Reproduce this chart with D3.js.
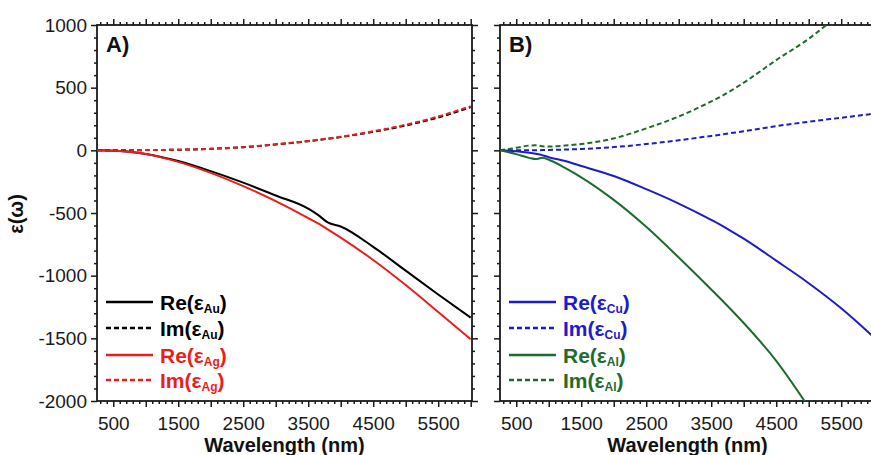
<!DOCTYPE html>
<html>
<head>
<meta charset="utf-8">
<script src="https://cdn.jsdelivr.net/npm/d3@7"></script>
<style>
  html, body { margin: 0; padding: 0; background: #fff; }
  svg { display: block; font-family: "Liberation Sans", Arial, sans-serif; }
</style>
</head>
<body>
<svg id="chart" width="871" height="455"></svg>
<script>
// ---------------- data ----------------
const wavelength = [250, 500, 700, 800, 900, 1000, 1250, 1500, 2000, 2500, 3000, 3500, 3650, 3800, 4000, 4500, 5000, 5500, 6000];

const reAu = [0, -3, -10, -15, -22, -30, -55, -85, -166, -258, -360, -465, -515, -575, -608, -770, -960, -1150, -1335];
const imAu = [0, 0, 0, 1, 1, 2, 3, 5, 12, 25, 47, 73, 82, 92, 106, 148, 198, 262, 345];
const reAg = [0, -3, -10, -15, -22, -30, -58, -92, -180, -285, -405, -540, -583, -630, -696, -875, -1075, -1290, -1508];
const imAg = [0, 0, 0, 1, 1, 2, 3, 5, 12, 25, 48, 75, 84, 94, 108, 152, 204, 270, 352];

const reCu = [0, -8, -20, -28, -38, -55, -85, -125, -205, -310, -425, -555, -597, -642, -705, -880, -1060, -1260, -1490];
const imCu = [0, 0, 1, 1, 2, 3, 6, 11, 26, 50, 80, 115, 125, 137, 152, 193, 228, 260, 292];
const reAl = [0, -30, -60, -70, -60, -75, -140, -215, -395, -610, -855, -1110, -1188, -1268, -1378, -1680, -2050, null, null];
const imAl = [0, 20, 38, 40, 33, 30, 38, 50, 95, 175, 270, 390, 430, 475, 540, 720, 890, 1100, null];

const xMajorTicks = [500, 1000, 1500, 2000, 2500, 3000, 3500, 4000, 4500, 5000, 5500, 6000];
const xLabelTicks = [500, 1500, 2500, 3500, 4500, 5500];
const yMajorTicks = [-2000, -1500, -1000, -500, 0, 500, 1000];

const panelNames = ["A)", "B)"];
const seriesA = [
  { name: "Re", sub: "Au", values: reAu, color: "#000000", dashed: false },
  { name: "Im", sub: "Au", values: imAu, color: "#000000", dashed: true },
  { name: "Re", sub: "Ag", values: reAg, color: "#ee1c1c", dashed: false },
  { name: "Im", sub: "Ag", values: imAg, color: "#ee1c1c", dashed: true }
];
const seriesB = [
  { name: "Re", sub: "Cu", values: reCu, color: "#1c1ccc", dashed: false },
  { name: "Im", sub: "Cu", values: imCu, color: "#1c1ccc", dashed: true },
  { name: "Re", sub: "Al", values: reAl, color: "#1f6b2c", dashed: false },
  { name: "Im", sub: "Al", values: imAl, color: "#1f6b2c", dashed: true }
];

// ---------------- layout ----------------
const svg = d3.select("#chart");
const plotTop = 25, plotBottom = 401;
const panels = [
  { x0: 97, x1: 472, series: seriesA, label: panelNames[0], yLabels: true },
  { x0: 500, x1: 875, series: seriesB, label: panelNames[1], yLabels: false }
];
const y = d3.scaleLinear().domain([-2000, 1000]).range([plotBottom, plotTop]);
const xMinor = d3.range(300, 6001, 100).filter(v => v % 500 !== 0);
const yMinor = d3.range(-2000, 1001, 100).filter(v => v % 500 !== 0);
const axisColor = "#1a1a1a";

function styleAxis(g) {
  g.select(".domain").remove();
  g.selectAll(".tick line").attr("stroke", axisColor).attr("stroke-width", 1.5);
  g.selectAll("text").attr("fill", "#1a1a1a").attr("font-size", 19);
}

panels.forEach((p, i) => {
  const x = d3.scaleLinear().domain([250, 6020]).range([p.x0, p.x1]);
  const g = svg.append("g");

  const clipId = "clip" + i;
  svg.append("clipPath").attr("id", clipId)
    .append("rect").attr("x", p.x0).attr("y", plotTop).attr("width", p.x1 - p.x0).attr("height", plotBottom - plotTop);

  // bottom axis
  g.append("g").attr("transform", `translate(0,${plotBottom})`)
    .call(d3.axisBottom(x).tickValues(xMinor).tickSize(3).tickFormat(""))
    .call(styleAxis);
  g.append("g").attr("transform", `translate(0,${plotBottom})`)
    .call(d3.axisBottom(x).tickValues(xMajorTicks).tickSize(6).tickPadding(10)
      .tickFormat(d => xLabelTicks.includes(d) ? String(d) : ""))
    .call(styleAxis);
  // top axis
  g.append("g").attr("transform", `translate(0,${plotTop})`)
    .call(d3.axisTop(x).tickValues(xMinor).tickSize(3).tickFormat(""))
    .call(styleAxis);
  g.append("g").attr("transform", `translate(0,${plotTop})`)
    .call(d3.axisTop(x).tickValues(xMajorTicks).tickSize(6).tickFormat(""))
    .call(styleAxis);
  // left axis
  g.append("g").attr("transform", `translate(${p.x0},0)`)
    .call(d3.axisLeft(y).tickValues(yMinor).tickSize(3).tickFormat(""))
    .call(styleAxis);
  g.append("g").attr("transform", `translate(${p.x0},0)`)
    .call(d3.axisLeft(y).tickValues(yMajorTicks).tickSize(6).tickPadding(4)
      .tickFormat(d => p.yLabels ? String(d) : ""))
    .call(styleAxis);
  // right axis
  g.append("g").attr("transform", `translate(${p.x1},0)`)
    .call(d3.axisRight(y).tickValues(yMinor).tickSize(3).tickFormat(""))
    .call(styleAxis);
  g.append("g").attr("transform", `translate(${p.x1},0)`)
    .call(d3.axisRight(y).tickValues(yMajorTicks).tickSize(6).tickFormat(""))
    .call(styleAxis);

  // frame
  g.append("rect").attr("x", p.x0).attr("y", plotTop)
    .attr("width", p.x1 - p.x0).attr("height", plotBottom - plotTop)
    .attr("fill", "none").attr("stroke", axisColor).attr("stroke-width", 1.8);

  // curves
  const line = d3.line()
    .defined(d => d[1] !== null)
    .x(d => x(d[0])).y(d => y(d[1]))
    .curve(d3.curveMonotoneX);
  const order = [1, 3, 0, 2];
  order.forEach(k => {
    const s = p.series[k];
    const pts = wavelength.map((w, j) => [w, s.values[j]]);
    g.append("path")
      .attr("clip-path", `url(#${clipId})`)
      .attr("d", line(pts))
      .attr("fill", "none")
      .attr("stroke", s.color)
      .attr("stroke-width", 2)
      .attr("stroke-dasharray", s.dashed ? "5,3" : null);
  });

  // panel label
  g.append("text").attr("x", p.x0 + 9).attr("y", 52)
    .attr("font-size", 22).attr("font-weight", "bold").attr("fill", "#111")
    .text(p.label);

  // legend
  const rowsY = [302, 328, 355, 380];
  p.series.forEach((s, k) => {
    const ly = rowsY[k];
    g.append("line")
      .attr("x1", p.x0 + 9).attr("x2", p.x0 + 56)
      .attr("y1", ly).attr("y2", ly)
      .attr("stroke", s.color).attr("stroke-width", 2.3)
      .attr("stroke-dasharray", s.dashed ? "5,3" : null);
    const t = g.append("text").attr("x", p.x0 + 63).attr("y", ly + 7.5)
      .attr("font-size", 21).attr("font-weight", "bold").attr("fill", s.color);
    t.append("tspan").text(s.name + "(ε");
    t.append("tspan").attr("font-size", 12).attr("dy", 3).text(s.sub);
    t.append("tspan").attr("dy", -3).text(")");
  });

  // x axis title
  g.append("text").attr("x", (p.x0 + p.x1) / 2).attr("y", 452)
    .attr("text-anchor", "middle").attr("font-size", 20).attr("font-weight", "bold")
    .attr("fill", "#111").text("Wavelength (nm)");
});

// y axis title
svg.append("text")
  .attr("transform", "translate(23,214) rotate(-90)")
  .attr("text-anchor", "middle").attr("font-size", 20).attr("font-weight", "bold")
  .attr("fill", "#111").text("ε(ω)");
</script>
</body>
</html>
